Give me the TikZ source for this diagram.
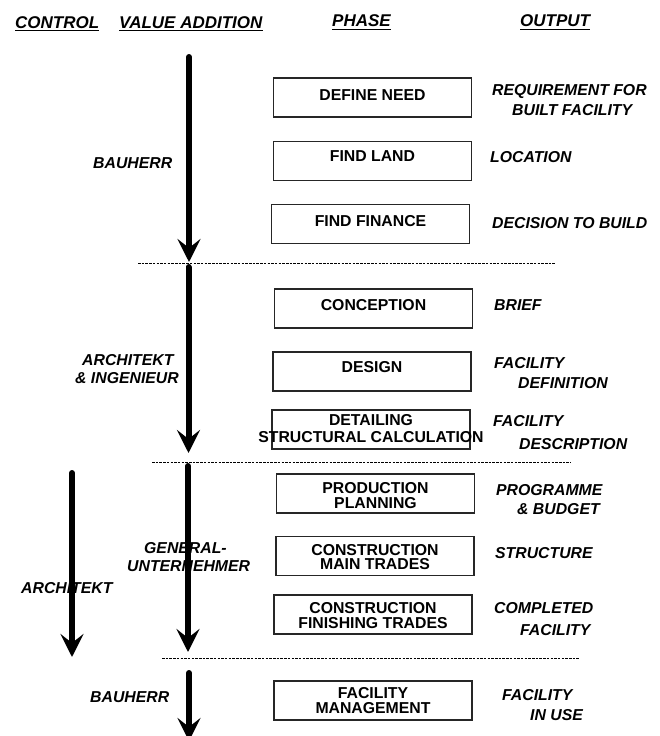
\documentclass[tikz,border=0pt]{standalone}
\usepackage{fontspec}
\setmainfont{Liberation Sans}
\usetikzlibrary{arrows.meta}

\tikzset{
  hdr/.style={font=\fontsize{17}{20}\selectfont\bfseries\itshape, inner sep=0pt, anchor=base west},
  outtxt/.style={font=\fontsize{15.8}{18}\selectfont\bfseries\itshape, inner sep=0pt, anchor=base west},
  actor/.style={font=\fontsize{15.8}{18}\selectfont\bfseries\itshape, inner sep=0pt, anchor=base west},
  phasebox/.style={draw=black!85, line width=1.2pt, minimum width=198pt, minimum height=39pt, inner sep=0pt},
  boxtxt/.style={font=\fontsize{15.8}{14.8}\selectfont\bfseries, align=center, inner sep=0pt},
  flow/.style={line width=6pt, line cap=round, -{Stealth[length=23pt,width=23pt,inset=9pt]}},
  divider/.style={line width=0.9pt, dash pattern=on 2.5pt off 1.2pt},
  uline/.style={line width=1.5pt}
}

\begin{document}
\begin{tikzpicture}[x=1pt, y=-1pt]
\useasboundingbox (0,0) rectangle (660,736);

% column headings
\node[hdr] (hctl) at (15,28) {CONTROL};
\node[hdr] (hval) at (119,28) {VALUE ADDITION};
\node[hdr] (hpha) at (332,27) {PHASE};
\node[hdr] (hout) at (520,27) {OUTPUT};
\foreach \h in {hctl,hval,hpha,hout}
  \draw[uline] ([yshift=-2.5pt]\h.base west) -- ([yshift=-2.5pt]\h.base east);

% phase boxes
\node[phasebox] (p1)  at (372.5,97.5) {};
\node[phasebox] (p2)  at (372.5,161)  {};
\node[phasebox] (p3)  at (370.5,224)  {};
\node[phasebox] (p4)  at (373.5,308.5) {};
\node[phasebox] (p5)  at (372,371.5)  {};
\node[phasebox] (p6)  at (371,429.5)  {};
\node[phasebox] (p7)  at (375.5,493.5) {};
\node[phasebox] (p8)  at (375,556)    {};
\node[phasebox] (p9)  at (373,614.5)  {};
\node[phasebox] (p10) at (373,700.5)  {};

% phase names
\node[boxtxt] (t1)  at ([yshift=2.5pt]p1.center) {DEFINE NEED};
\node[boxtxt] (t2)  at ([yshift=5pt]p2.center) {FIND LAND};
\node[boxtxt] (t3)  at ([yshift=3pt]p3.center) {FIND FINANCE};
\node[boxtxt] (t4)  at ([yshift=3.5pt]p4.center) {CONCEPTION};
\node[boxtxt] (t5)  at ([yshift=4pt]p5.center) {DESIGN};
\node[boxtxt] (t6)  at ([yshift=1pt]p6.center) {DETAILING\\[3pt]STRUCTURAL CALCULATION};
\node[boxtxt] (t7)  at ([yshift=-2pt]p7.center) {PRODUCTION\\PLANNING};
\node[boxtxt] (t8)  at ([yshift=-1pt]p8.center) {CONSTRUCTION\\MAIN TRADES};
\node[boxtxt] (t9)  at ([yshift=-1pt]p9.center) {CONSTRUCTION\\FINISHING TRADES};
\node[boxtxt] (t10) at (p10.center) {FACILITY\\MANAGEMENT};

% outputs
\node[outtxt] (o1a) at (492,95)  {REQUIREMENT FOR};
\node[outtxt] (o1b) at (512,115) {BUILT FACILITY};
\node[outtxt] (o2)  at (490,162) {LOCATION};
\node[outtxt] (o3)  at (492,228) {DECISION TO BUILD};
\node[outtxt] (o4)  at (494,310) {BRIEF};
\node[outtxt] (o5a) at (494,368) {FACILITY};
\node[outtxt] (o5b) at (518,388) {DEFINITION};
\node[outtxt] (o6a) at (493,426) {FACILITY};
\node[outtxt] (o6b) at (519,449) {DESCRIPTION};
\node[outtxt] (o7a) at (496,495) {PROGRAMME};
\node[outtxt] (o7b) at (517,514) {\& BUDGET};
\node[outtxt] (o8)  at (495,558) {STRUCTURE};
\node[outtxt] (o9a) at (494,613) {COMPLETED};
\node[outtxt] (o9b) at (520,635) {FACILITY};
\node[outtxt] (o10a) at (502,700) {FACILITY};
\node[outtxt] (o10b) at (530,720) {IN USE};

% parties
\node[actor] (a1)  at (93,168)  {BAUHERR};
\node[actor] (a2a) at (82,365)  {ARCHITEKT};
\node[actor] (a2b) at (75,383)  {\& INGENIEUR};
\node[actor] (a3a) at (144,553) {GENERAL-};
\node[actor] (a3b) at (127,571) {UNTERNEHMER};
\node[actor] (a4)  at (21,593)  {ARCHITEKT};
\node[actor] (a5)  at (90,702)  {BAUHERR};

% stage dividers
\coordinate (d1a) at (138,263); \coordinate (d1b) at (555,263);
\coordinate (d2a) at (152,462); \coordinate (d2b) at (571,462);
\coordinate (d3a) at (162,658); \coordinate (d3b) at (580,658);
\draw[divider] (d1a) -- (d1b);
\draw[divider] (d2a) -- (d2b);
\draw[divider] (d3a) -- (d3b);

% responsibility arrows
\coordinate (f1a) at (189,57);   \coordinate (f1b) at (189,262);
\coordinate (f2a) at (188.5,267); \coordinate (f2b) at (188.5,453);
\coordinate (f3a) at (188,466);  \coordinate (f3b) at (188,652);
\coordinate (f4a) at (72,473);   \coordinate (f4b) at (72,657);
\coordinate (f5a) at (189,673);  \coordinate (f5b) at (189,741);
\draw[flow] (f1a) -- (f1b);
\draw[flow] (f2a) -- (f2b);
\draw[flow] (f3a) -- (f3b);
\draw[flow] (f4a) -- (f4b);
\draw[flow] (f5a) -- (f5b);
\end{tikzpicture}
\end{document}
